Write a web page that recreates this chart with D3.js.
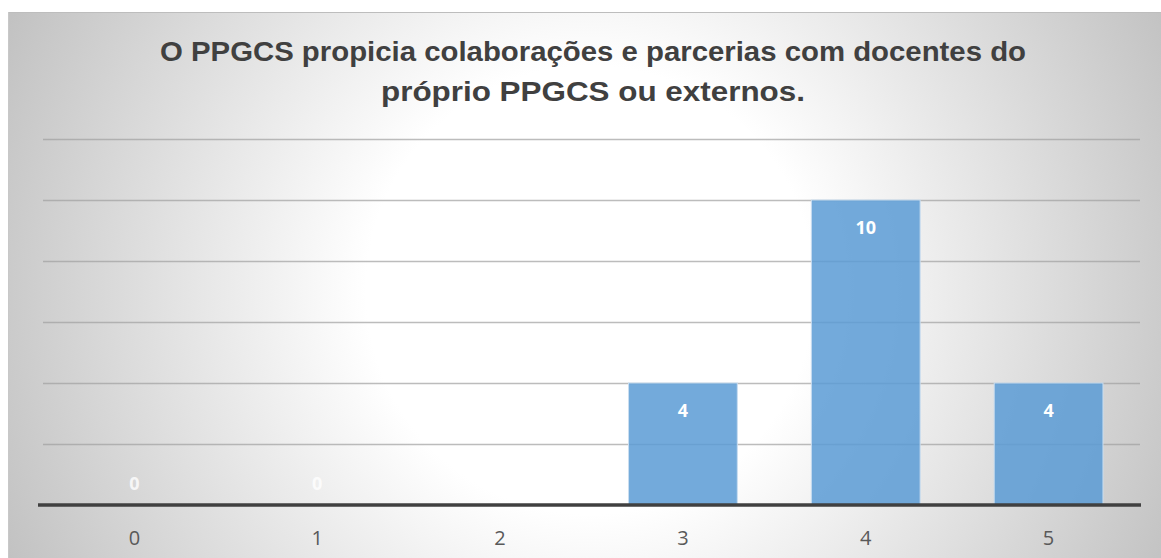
<!DOCTYPE html>
<html>
<head>
<meta charset="utf-8">
<script src="https://cdn.jsdelivr.net/npm/d3@7"></script>
<style>
  body { margin: 0; background: #fff; }
  svg { display: block; }
</style>
</head>
<body>
<svg id="chart"></svg>
<script>
var width = 1161;
var height = 558;
var margin = {top: 139, right: 21, bottom: 53, left: 43};
var w = width - margin.left - margin.right;
var h = height - margin.top - margin.bottom;

var categories = ["0", "1", "2", "3", "4", "5"];
var values = [0, 0, null, 4, 10, 4];
var yTicks = [0, 2, 4, 6, 8, 10, 12];
var titleLines = ["O PPGCS propicia colaborações e parcerias com docentes do", "próprio PPGCS ou externos."];

var svg = d3.select("#chart")
    .attr("width", width)
    .attr("height", height);

// background gradient of the chart box
var defs = svg.append("defs");
var grad = defs.append("radialGradient")
    .attr("id", "bg")
    .attr("gradientUnits", "userSpaceOnUse")
    .attr("cx", 590).attr("cy", 290).attr("r", 640);
grad.append("stop").attr("offset", "0%").attr("stop-color", "#ffffff");
grad.append("stop").attr("offset", "35%").attr("stop-color", "#ffffff");
grad.append("stop").attr("offset", "100%").attr("stop-color", "#c2c2c2");

svg.append("rect")
    .attr("x", 8).attr("y", 12)
    .attr("width", width - 8).attr("height", height - 12)
    .style("fill", "url(#bg)");
svg.append("line")
    .attr("x1", 8).attr("x2", width)
    .attr("y1", 12.5).attr("y2", 12.5)
    .style("stroke", "#bdbdbd").style("stroke-width", 1);
svg.append("line")
    .attr("x1", 8.5).attr("x2", 8.5)
    .attr("y1", 12).attr("y2", height)
    .style("stroke", "#c8c8c8").style("stroke-width", 1);

// title (squeezed to the width it has in the picture)
var title = svg.append("g");
var titleY = [60.5, 101];
var titleW = [866, 424];
titleLines.forEach(function(t, i) {
    title.append("text")
        .attr("x", 593)
        .attr("y", titleY[i])
        .attr("text-anchor", "middle")
        .attr("textLength", titleW[i])
        .attr("lengthAdjust", "spacingAndGlyphs")
        .style("font-family", "'Liberation Sans', sans-serif")
        .style("font-weight", "bold")
        .style("font-size", "28px")
        .style("fill", "#404040")
        .text(t);
});

var chart = svg.append("g")
    .attr("transform", "translate(" + margin.left + "," + margin.top + ")");

var x = d3.scaleBand()
    .domain(categories)
    .range([0, w])
    .paddingInner(0.405)
    .paddingOuter(0.2025);

var y = d3.scaleLinear()
    .domain([0, 12])
    .range([h, 0]);

// gridlines
chart.append("g")
    .selectAll("line")
    .data(yTicks.slice(1))
    .enter().append("line")
    .attr("x1", 0).attr("x2", w)
    .attr("y1", function(d) { return Math.round(y(d)) + 0.5; })
    .attr("y2", function(d) { return Math.round(y(d)) + 0.5; })
    .style("stroke", "#a0a0a0")
    .style("stroke-opacity", 0.7)
    .style("stroke-width", 1.3);

// bars
chart.append("g")
    .selectAll("rect")
    .data(values.map(function(v, i) { return {c: categories[i], v: v}; }).filter(function(d) { return d.v; }))
    .enter().append("rect")
    .attr("x", function(d) { return x(d.c); })
    .attr("y", function(d) { return y(d.v); })
    .attr("width", x.bandwidth())
    .attr("height", function(d) { return y(0) - y(d.v); })
    .style("fill", "#5b9bd5")
    .style("fill-opacity", 0.85)
    .style("stroke", "#c9ddf0")
    .style("stroke-width", 1);

// data labels
chart.append("g")
    .selectAll("text")
    .data(values.map(function(v, i) { return {c: categories[i], v: v}; }).filter(function(d) { return d.v !== null; }))
    .enter().append("text")
    .attr("x", function(d) { return x(d.c) + x.bandwidth() / 2; })
    .attr("y", function(d) { return d.v > 0 ? y(d.v) + 34 : y(0) - 15; })
    .attr("text-anchor", "middle")
    .style("font-family", "'Open Sans', 'Liberation Sans', sans-serif")
    .style("font-weight", "bold")
    .style("font-size", "18px")
    .style("fill", "#ffffff")
    .style("fill-opacity", function(d) { return d.v > 0 ? 1 : 0.8; })
    .text(function(d) { return d.v; });

// x axis
var xAxis = d3.axisBottom(x).tickSize(0).tickPadding(26);
var gx = chart.append("g")
    .attr("transform", "translate(0," + h + ")")
    .call(xAxis);
gx.select(".domain")
    .attr("d", "M-5,0H" + (w + 1))
    .style("stroke", "#404040")
    .style("stroke-width", 3.5);
gx.selectAll("text")
    .style("font-family", "'Open Sans', 'Liberation Sans', sans-serif")
    .style("font-size", "20px")
    .style("fill", "#595959");
</script>
</body>
</html>
